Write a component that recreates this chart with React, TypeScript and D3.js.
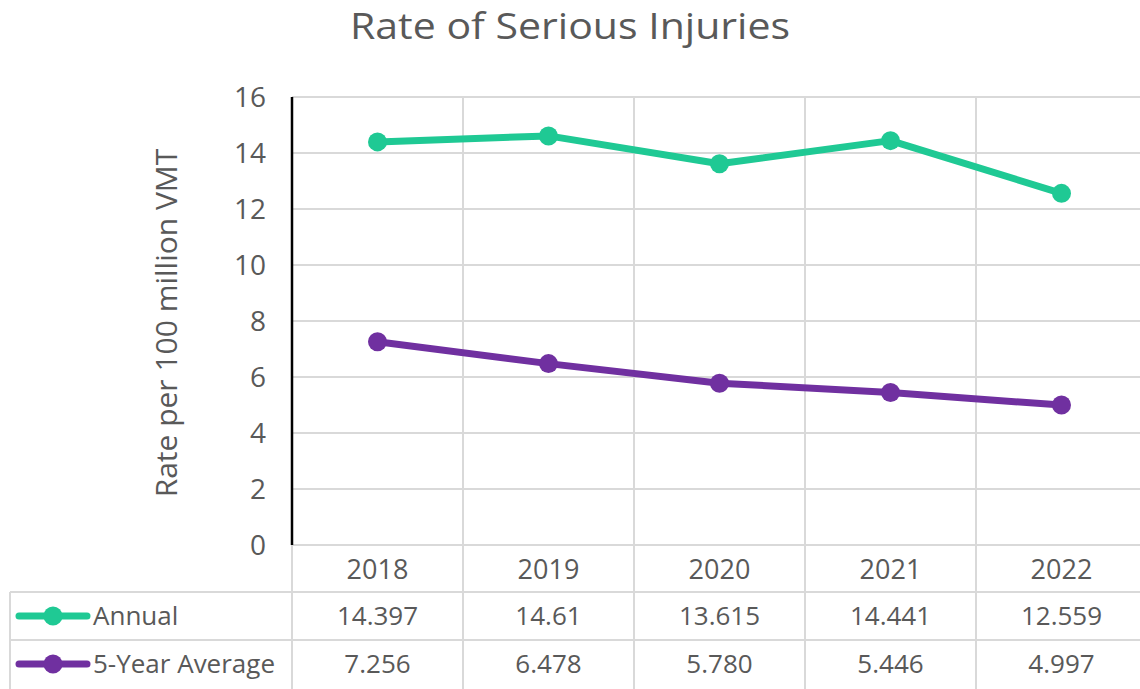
import React from "react";
import * as d3 from "d3";

const years = ["2018", "2019", "2020", "2021", "2022"];
const annual = [14.397, 14.61, 13.615, 14.441, 12.559];
const fiveYearAvg = [7.256, 6.478, 5.78, 5.446, 4.997];
const annualLabels = ["14.397", "14.61", "13.615", "14.441", "12.559"];
const avgLabels = ["7.256", "6.478", "5.780", "5.446", "4.997"];
const yTicks = [0, 2, 4, 6, 8, 10, 12, 14, 16];

const W = 1140;
const H = 689;
const FONT = "'Open Sans', sans-serif";
const TEXT = "#595959";
const GRID = "#d9d9d9";

export default function App() {
  const svgRef = React.useRef<SVGSVGElement>(null);

  React.useEffect(() => {
    const x = d3.scaleBand().domain(years).range([292, 1147]);
    const y = d3.scaleLinear().domain([0, 16]).range([545, 97]);

    const svg = d3.select(svgRef.current);
    svg.selectAll("*").remove();

    const series = [
      { name: "Annual", values: annual, labels: annualLabels, color: "#1fc994" },
      { name: "5-Year Average", values: fiveYearAvg, labels: avgLabels, color: "#7030a0" },
    ];

    // title
    svg.append("text")
      .attr("x", 570).attr("y", 39)
      .attr("text-anchor", "middle")
      .attr("font-family", FONT).attr("font-size", 36)
      .attr("textLength", 440).attr("lengthAdjust", "spacingAndGlyphs")
      .attr("fill", TEXT)
      .text("Rate of Serious Injuries");

    // horizontal grid
    svg.append("g").selectAll("line").data(yTicks).join("line")
      .attr("x1", 292).attr("x2", W)
      .attr("y1", (d) => y(d)).attr("y2", (d) => y(d))
      .attr("stroke", GRID).attr("stroke-width", 2);

    // vertical grid / table columns
    const rowTop = 592, rowMid = 640, rowBot = 689;
    svg.append("g").selectAll("line").data(years.slice(1)).join("line")
      .attr("x1", (d) => x(d)!).attr("x2", (d) => x(d)!)
      .attr("y1", 97).attr("y2", rowBot)
      .attr("stroke", GRID).attr("stroke-width", 2);

    svg.append("line").attr("x1", 292).attr("x2", 292).attr("y1", 545).attr("y2", rowBot)
      .attr("stroke", GRID).attr("stroke-width", 2);
    svg.append("line").attr("x1", 10).attr("x2", 10).attr("y1", rowTop).attr("y2", rowBot)
      .attr("stroke", GRID).attr("stroke-width", 2);
    [rowTop, rowMid].forEach((yy) => {
      svg.append("line").attr("x1", 10).attr("x2", W).attr("y1", yy).attr("y2", yy)
        .attr("stroke", GRID).attr("stroke-width", 2);
    });

    // y axis line
    svg.append("line").attr("x1", 292).attr("x2", 292).attr("y1", y(16)).attr("y2", y(0))
      .attr("stroke", "#000").attr("stroke-width", 2.5);

    // y ticks
    svg.append("g").selectAll("text").data(yTicks).join("text")
      .attr("x", 266).attr("y", (d) => y(d))
      .attr("dy", "0.35em").attr("text-anchor", "end")
      .attr("font-family", FONT).attr("font-size", 28).attr("fill", TEXT)
      .text((d) => d);

    // y axis title
    svg.append("text")
      .attr("transform", "translate(177,323) rotate(-90)")
      .attr("text-anchor", "middle")
      .attr("font-family", FONT).attr("font-size", 30).attr("fill", TEXT)
      .text("Rate per 100 million VMT");

    // category labels
    const cx = (d: string) => x(d)! + x.bandwidth() / 2;
    svg.append("g").selectAll("text").data(years).join("text")
      .attr("x", cx).attr("y", 570).attr("dy", "0.35em")
      .attr("text-anchor", "middle")
      .attr("font-family", FONT).attr("font-size", 27).attr("fill", TEXT)
      .text((d) => d);

    const line = d3.line<number>()
      .x((_, i) => cx(years[i]))
      .y((d) => y(d));

    series.forEach((s, si) => {
      const g = svg.append("g");
      g.append("path").attr("d", line(s.values)!)
        .attr("fill", "none").attr("stroke", s.color)
        .attr("stroke-width", 7).attr("stroke-linejoin", "round");
      g.selectAll("circle").data(s.values).join("circle")
        .attr("cx", (_, i) => cx(years[i])).attr("cy", (d) => y(d))
        .attr("r", 9.5).attr("fill", s.color);

      const rowY = si === 0 ? 616 : 664;
      // legend key
      g.append("line").attr("x1", 19).attr("x2", 87).attr("y1", rowY).attr("y2", rowY)
        .attr("stroke", s.color).attr("stroke-width", 7).attr("stroke-linecap", "round");
      g.append("circle").attr("cx", 53).attr("cy", rowY).attr("r", 9.5).attr("fill", s.color);
      g.append("text").attr("x", 93).attr("y", rowY).attr("dy", "0.35em")
        .attr("font-family", FONT).attr("font-size", 26).attr("fill", TEXT)
        .text(s.name);
      g.selectAll("text.val").data(s.labels).join("text")
        .attr("class", "val")
        .attr("x", (_, i) => cx(years[i])).attr("y", rowY).attr("dy", "0.35em")
        .attr("text-anchor", "middle")
        .attr("font-family", FONT).attr("font-size", 26).attr("fill", TEXT)
        .text((d) => d);
    });
  }, []);

  return (
    <svg
      ref={svgRef}
      width={W}
      height={H}
      style={{ position: "absolute", left: 0, top: 0, background: "#fff" }}
    />
  );
}
